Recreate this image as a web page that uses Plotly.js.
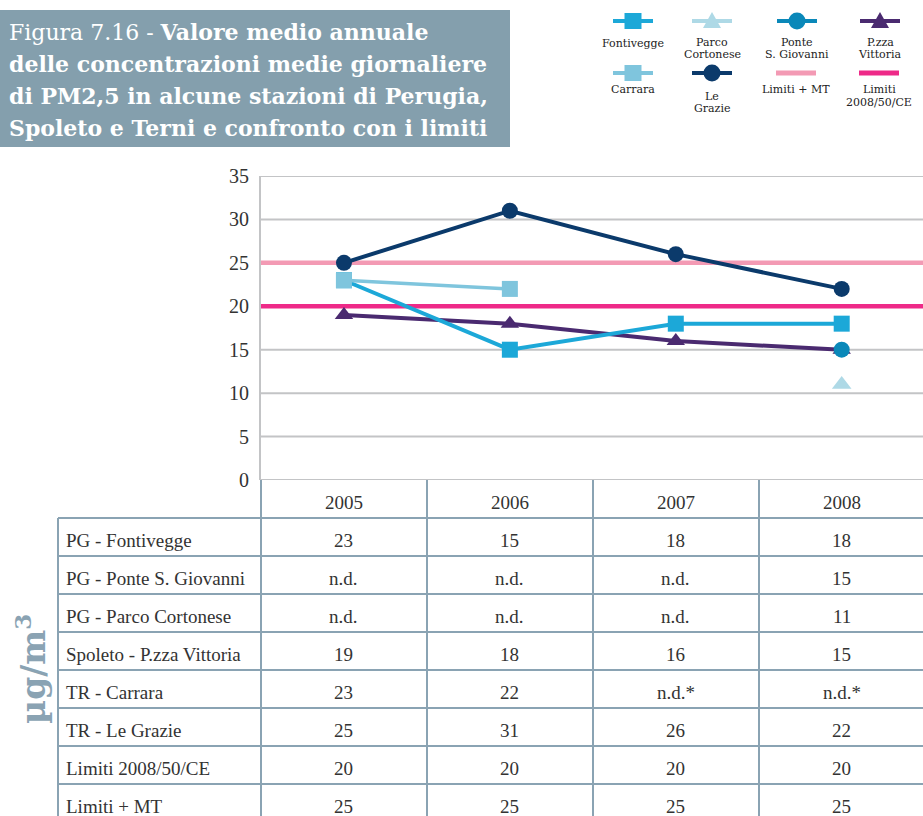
<!DOCTYPE html>
<html>
<head>
<meta charset="utf-8">
<script src="https://cdn.plot.ly/plotly-3.0.1.min.js"></script>
<style>
html,body{margin:0;padding:0;overflow:hidden;background:#fff;}
#chart{width:923px;height:816px;}
</style>
</head>
<body>
<div id="chart"></div>
<script>
// ---------------- DATA ----------------
var years = ['2005', '2006', '2007', '2008'];
var fontivegge = [23, 15, 18, 18];
var ponteSGiovanni = [null, null, null, 15];
var parcoCortonese = [null, null, null, 11];
var pzzaVittoria = [19, 18, 16, 15];
var carrara = [23, 22, null, null];
var leGrazie = [25, 31, 26, 22];
var limiti2008 = [20, 20, 20, 20];
var limitiMT = [25, 25, 25, 25];
var tableLabels = ['PG - Fontivegge', 'PG - Ponte S. Giovanni', 'PG - Parco Cortonese',
  'Spoleto - P.zza Vittoria', 'TR - Carrara', 'TR - Le Grazie', 'Limiti 2008/50/CE', 'Limiti + MT'];
var yTicks = [0, 5, 10, 15, 20, 25, 30, 35];
var titleLines = ['Figura 7.16 - <b>Valore medio annuale</b>',
  '<b>delle concentrazioni medie giornaliere</b>',
  '<b>di PM2,5 in alcune stazioni di Perugia,</b>',
  '<b>Spoleto e Terni e confronto con i limiti</b>'];

// ---------------- STYLE / GEOMETRY ----------------
var W = 923, H = 816;
function px(x) { return x / W; }
function py(y) { return 1 - y / H; }

var C = {
  fontivegge: '#1ca8d8', ponte: '#0a88b9', parco: '#aed9e6', vittoria: '#4a2a70',
  carrara: '#7fc5dd', grazie: '#0b3a6b', mt: '#f39ab4', ce: '#ee2a88',
  grid: '#c3c4c6', table: '#8aa3b3', titleBg: '#849fad', text: '#333333'
};
var serif = 'Liberation Serif, serif';
var legendFont = 'DejaVu Serif, serif';

function series(name, vals, color, symbol, lw, ms) {
  return {
    type: 'scatter', mode: 'lines+markers', name: name, x: years, y: vals,
    connectgaps: false, showlegend: false,
    line: { color: color, width: lw },
    marker: { color: color, symbol: symbol, size: ms },
    hoverinfo: 'skip', cliponaxis: false
  };
}

var traces = [
  series('P.zza Vittoria', pzzaVittoria, C.vittoria, 'triangle-up', 4, 16),
  series('Fontivegge', fontivegge, C.fontivegge, 'square', 4, 16),
  series('Carrara', carrara, C.carrara, 'square', 3.5, 16),
  series('Parco Cortonese', parcoCortonese, C.parco, 'triangle-up', 4, 17),
  series('Ponte S. Giovanni', ponteSGiovanni, C.ponte, 'circle', 4, 16),
  series('Le Grazie', leGrazie, C.grazie, 'circle', 4, 16)
];

var shapes = [];
var annotations = [];

// gridlines (drawn as shapes so the limit lines can sit above them, below the data)
yTicks.forEach(function (t) {
  shapes.push({ type: 'line', xref: 'paper', yref: 'y', x0: px(261), x1: 1, y0: t, y1: t,
    line: { color: C.grid, width: 2 }, layer: 'below' });
});
// limit lines
shapes.push({ type: 'line', xref: 'paper', yref: 'y', x0: px(261), x1: 1, y0: limitiMT[0], y1: limitiMT[0],
  line: { color: C.mt, width: 4.5 }, layer: 'below' });
shapes.push({ type: 'line', xref: 'paper', yref: 'y', x0: px(261), x1: 1, y0: limiti2008[0], y1: limiti2008[0],
  line: { color: C.ce, width: 4.5 }, layer: 'below' });

// title box
shapes.push({ type: 'rect', xref: 'paper', yref: 'paper', x0: 0, x1: px(510), y0: py(147), y1: py(10),
  fillcolor: C.titleBg, line: { width: 0 }, layer: 'below' });

// ---------------- TABLE ----------------
function cellText(arr, ndText) {
  return arr.map(function (v) { return v === null ? ndText : String(v); });
}
var tableRows = [
  cellText(fontivegge, 'n.d.'), cellText(ponteSGiovanni, 'n.d.'), cellText(parcoCortonese, 'n.d.'),
  cellText(pzzaVittoria, 'n.d.'), cellText(carrara, 'n.d.*'), cellText(leGrazie, 'n.d.'),
  cellText(limiti2008, 'n.d.'), cellText(limitiMT, 'n.d.')
];
var tTop = 480, hdrBottom = 518, rowH = 38, tLeft = 58, colX = [261, 427, 593, 759];
var tBottom = hdrBottom + rowH * tableRows.length;
function tline(x0, y0, x1, y1) {
  shapes.push({ type: 'line', xref: 'paper', yref: 'paper', x0: px(x0), x1: px(x1), y0: py(y0), y1: py(y1),
    line: { color: C.table, width: 2 } });
}
// horizontal rules
for (var r = 0; r < tableRows.length; r++) tline(tLeft, hdrBottom + rowH * r, W, hdrBottom + rowH * r);
// vertical rules
tline(tLeft, hdrBottom, tLeft, tBottom);
colX.forEach(function (x) { tline(x, tTop, x, tBottom); });

// header years (category axis: annotation x is the category index)
years.forEach(function (yr, j) {
  annotations.push({ xref: 'x', yref: 'paper', x: j, y: py(tTop + rowH / 2 + 3), text: yr,
    showarrow: false, xanchor: 'center', yanchor: 'middle', font: { family: serif, size: 19, color: C.text } });
});
// rows
tableRows.forEach(function (row, i) {
  var cy = hdrBottom + rowH * i + rowH / 2 + 3;
  annotations.push({ xref: 'paper', yref: 'paper', x: px(tLeft + 6), y: py(cy), text: tableLabels[i],
    showarrow: false, xanchor: 'left', yanchor: 'middle', font: { family: serif, size: 19, color: C.text } });
  row.forEach(function (v, j) {
    annotations.push({ xref: 'x', yref: 'paper', x: j, y: py(cy), text: v,
      showarrow: false, xanchor: 'center', yanchor: 'middle', font: { family: serif, size: 19, color: C.text } });
  });
});

// ---------------- LEGEND (decoration) ----------------
var legendItems = [
  { cx: 633, cy: 21, color: C.fontivegge, sym: 'square', lines: [['Fontivegge', 43]] },
  { cx: 712, cy: 21, color: C.parco, sym: 'triangle', lines: [['Parco', 42], ['Cortonese', 55]] },
  { cx: 797, cy: 21, color: C.ponte, sym: 'circle', lines: [['Ponte', 42], ['S. Giovanni', 55]] },
  { cx: 880, cy: 21, color: C.vittoria, sym: 'triangle', lines: [['P.zza', 42], ['Vittoria', 55]] },
  { cx: 633, cy: 73, color: C.carrara, sym: 'square', lines: [['Carrara', 89]] },
  { cx: 712, cy: 73, color: C.grazie, sym: 'circle', lines: [['Le', 96], ['Grazie', 109]] },
  { cx: 796, cy: 73, color: C.mt, sym: null, lines: [['Limiti + MT', 89]] },
  { cx: 879, cy: 73, color: C.ce, sym: null, lines: [['Limiti', 89], ['2008/50/CE', 102]] }
];
legendItems.forEach(function (it) {
  shapes.push({ type: 'line', xref: 'paper', yref: 'paper', x0: px(it.cx - 20), x1: px(it.cx + 20),
    y0: py(it.cy), y1: py(it.cy), line: { color: it.color, width: it.sym ? 4 : 5 } });
  if (it.sym === 'square') {
    shapes.push({ type: 'rect', xref: 'paper', yref: 'paper', x0: px(it.cx - 8.5), x1: px(it.cx + 8.5),
      y0: py(it.cy + 8), y1: py(it.cy - 8), fillcolor: it.color, line: { width: 0 } });
  } else if (it.sym === 'circle') {
    shapes.push({ type: 'circle', xref: 'paper', yref: 'paper', x0: px(it.cx - 8.5), x1: px(it.cx + 8.5),
      y0: py(it.cy + 8.5), y1: py(it.cy - 8.5), fillcolor: it.color, line: { width: 0 } });
  } else if (it.sym === 'triangle') {
    var p = 'M ' + px(it.cx - 9) + ' ' + py(it.cy + 7) + ' L ' + px(it.cx + 9) + ' ' + py(it.cy + 7) +
      ' L ' + px(it.cx) + ' ' + py(it.cy - 9) + ' Z';
    shapes.push({ type: 'path', xref: 'paper', yref: 'paper', path: p, fillcolor: it.color, line: { width: 0 } });
  }
  it.lines.forEach(function (ln) {
    annotations.push({ xref: 'paper', yref: 'paper', x: px(it.cx), y: py(ln[1]), text: ln[0],
      showarrow: false, xanchor: 'center', yanchor: 'middle',
      font: { family: legendFont, size: 11, color: '#222222' } });
  });
});

// ---------------- TITLE ----------------
var titleY = [32, 64, 96, 128];
titleLines.forEach(function (t, i) {
  annotations.push({ xref: 'paper', yref: 'paper', x: px(7), y: py(titleY[i]), text: t,
    showarrow: false, xanchor: 'left', yanchor: 'middle', align: 'left',
    font: { family: 'DejaVu Serif, serif', size: 22, color: 'white' } });
});

// y unit label
annotations.push({ xref: 'paper', yref: 'paper', x: px(31), y: py(669), text: '<b>µg/m<sup>3</sup></b>',
  showarrow: false, textangle: -90, xanchor: 'center', yanchor: 'middle',
  font: { family: 'DejaVu Serif, serif', size: 33, color: C.table } });

var layout = {
  width: W, height: H,
  margin: { l: 0, r: 0, t: 0, b: 0, pad: 0 },
  paper_bgcolor: 'white', plot_bgcolor: 'rgba(0,0,0,0)',
  showlegend: false,
  xaxis: {
    domain: [px(261), 1], type: 'category', range: [-0.5, 3.49],
    showgrid: false, showticklabels: false, ticks: '', showline: false, zeroline: false, fixedrange: true
  },
  yaxis: {
    domain: [py(480), py(176)], range: [0, 35], tickvals: yTicks, ticktext: yTicks.map(String),
    showgrid: false, zeroline: false,
    showline: true, linecolor: C.grid, linewidth: 2,
    ticks: '', ticklabelstandoff: 6,
    tickfont: { family: serif, size: 20, color: C.text }, fixedrange: true
  },
  shapes: shapes,
  annotations: annotations
};

Plotly.newPlot('chart', traces, layout, { displayModeBar: false, staticPlot: true });
</script>
</body>
</html>
